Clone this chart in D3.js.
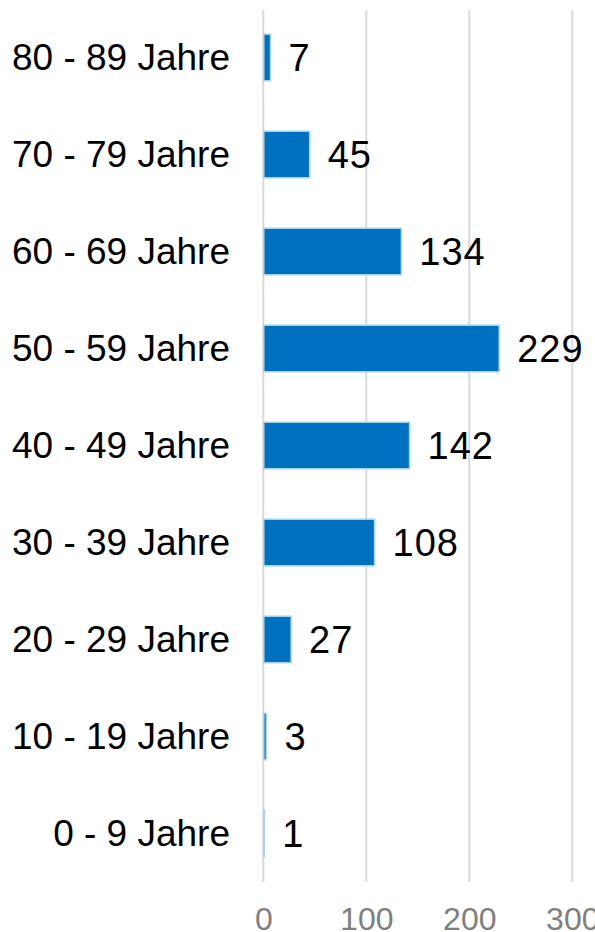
<!DOCTYPE html>
<html>
<head>
<meta charset="utf-8">
<script src="https://cdn.jsdelivr.net/npm/d3@7"></script>
<style>
    html, body { margin: 0; padding: 0; background: #fff; }
    svg { display: block; font-family: Arial, "Liberation Sans", sans-serif; }
</style>
</head>
<body>
<script>
// Altersgruppen, von oben nach unten
const categories = ['80 - 89 Jahre', '70 - 79 Jahre', '60 - 69 Jahre', '50 - 59 Jahre',
    '40 - 49 Jahre', '30 - 39 Jahre', '20 - 29 Jahre', '10 - 19 Jahre', '0 - 9 Jahre'];
// Anzahl je Altersgruppe
const values = [7, 45, 134, 229, 142, 108, 27, 3, 1];
// Achsenbeschriftung
const ticks = [0, 100, 200, 300];

const width = 595;
const height = 932;

const svg = d3.select('body')
    .append('svg')
    .attr('width', width)
    .attr('height', height);

const x = d3.scaleLinear()
    .domain([0, 300])
    .range([263.3, 572.3]);

const y = d3.scaleBand()
    .domain(categories)
    .range([9, 882])
    .paddingInner(0.52)
    .paddingOuter(0.26);

// Gitterlinien
svg.append('g')
    .selectAll('line')
    .data(ticks)
    .enter()
    .append('line')
    .attr('x1', d => x(d))
    .attr('x2', d => x(d))
    .attr('y1', 10)
    .attr('y2', 882)
    .attr('stroke', '#d9d9d9')
    .attr('stroke-width', 2);

// Balken
svg.append('g')
    .selectAll('rect')
    .data(values)
    .enter()
    .append('rect')
    .attr('x', x(0) + 0.5)
    .attr('y', (d, i) => y(categories[i]))
    .attr('width', d => Math.max(x(d) - x(0) - 0.5, 0.5))
    .attr('height', y.bandwidth())
    .attr('fill', '#0070c0')
    .attr('stroke', '#a6d5e8')
    .attr('stroke-width', 1.5);

// Werte
svg.append('g')
    .selectAll('text')
    .data(values)
    .enter()
    .append('text')
    .attr('x', d => x(d) + 18)
    .attr('y', (d, i) => y(categories[i]) + y.bandwidth() / 2)
    .attr('dy', '0.36em')
    .attr('font-size', '38px')
    .attr('letter-spacing', '1px')
    .attr('fill', '#000')
    .text(d => d);

// Kategorien
const yAxis = svg.append('g')
    .attr('transform', 'translate(230,0)')
    .call(d3.axisLeft(y).tickSize(0).tickPadding(0));
yAxis.select('.domain').remove();
yAxis.selectAll('text')
    .attr('font-size', '37px')
    .attr('font-family', 'Arial, "Liberation Sans", sans-serif')
    .attr('fill', '#000')
    .attr('dy', '0.33em');

// x-Achse
const xAxis = svg.append('g')
    .attr('transform', 'translate(0,907)')
    .call(d3.axisBottom(x).tickValues(ticks).tickSize(0).tickPadding(0));
xAxis.select('.domain').remove();
xAxis.selectAll('text')
    .attr('font-size', '32px')
    .attr('font-family', 'Arial, "Liberation Sans", sans-serif')
    .attr('fill', '#7f7f7f');
</script>
</body>
</html>
